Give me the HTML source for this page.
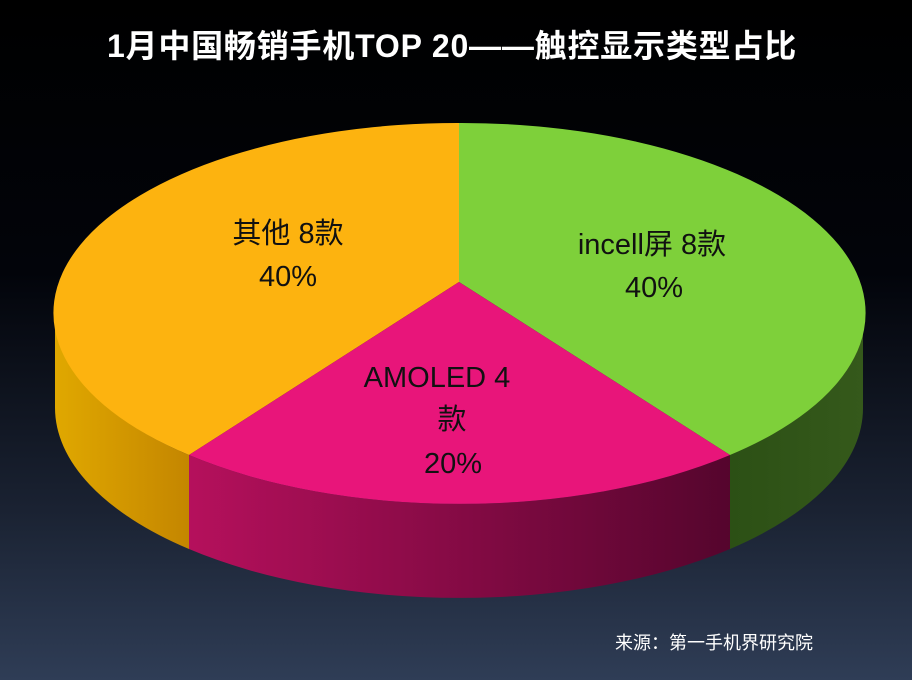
<!DOCTYPE html>
<html><head><meta charset="utf-8"><style>
html,body{margin:0;padding:0;}
body{width:912px;height:680px;overflow:hidden;background:linear-gradient(to bottom,#000 0%,#02040a 40%,#1a2232 75%,#2f3d56 100%);}
svg{position:absolute;left:0;top:0;}
text{font-family:"Liberation Sans","Noto Sans CJK SC",sans-serif;}
</style></head><body>
<svg width="912" height="680" viewBox="0 0 912 680">
<defs>
<linearGradient id="go" x1="0" x2="1" y1="0" y2="0"><stop offset="0" stop-color="#e0a800"/><stop offset="1" stop-color="#c48600"/></linearGradient>
<linearGradient id="gm" x1="0" x2="1" y1="0" y2="0"><stop offset="0" stop-color="#b5105c"/><stop offset="1" stop-color="#55052d"/></linearGradient>
<linearGradient id="gg" x1="0" x2="1" y1="0" y2="0"><stop offset="0" stop-color="#2c5015"/><stop offset="1" stop-color="#35591b"/></linearGradient>
</defs>
<path d="M55,313 A404,190 0 0 0 189,455 L189,549 A404,190 0 0 1 55,407 Z" fill="url(#go)"/>
<path d="M189,455 A404,190 0 0 0 730,455 L730,549 A404,190 0 0 1 189,549 Z" fill="url(#gm)"/>
<path d="M730,455 A404,190 0 0 0 863,313 L863,407 A404,190 0 0 1 730,549 Z" fill="url(#gg)"/>
<path d="M459,282 L459,123 A404,190 0 0 0 189,455 Z" fill="#fdb30f"/>
<path d="M459,282 L459,123 A404,190 0 0 1 730,455 Z" fill="#7ed03a"/>
<path d="M459,282 L189,455 A404,190 0 0 0 730,455 Z" fill="#e8157a"/>
<g font-size="29" fill="#111" text-anchor="middle">
<text x="288" y="243">其他 8款</text>
<text x="288" y="286">40%</text>
<text x="652" y="254">incell屏 8款</text>
<text x="654" y="297">40%</text>
<text x="437" y="387">AMOLED  4</text>
<text x="452" y="429">款</text>
<text x="453" y="473">20%</text>
</g>
<text x="452" y="57" font-size="32" font-weight="bold" fill="#fff" text-anchor="middle" letter-spacing="0.8">1月中国畅销手机TOP 20——触控显示类型占比</text>
<text x="714" y="649" font-size="18" fill="#fff" text-anchor="middle">来源：第一手机界研究院</text>
</svg>
</body></html>
